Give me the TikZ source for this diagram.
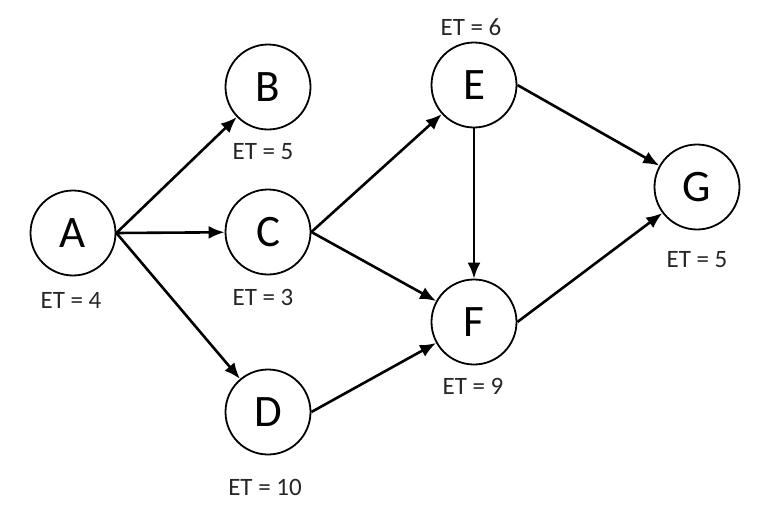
\documentclass[tikz,border=0pt]{standalone}
\usepackage{fontspec}
\setmainfont{Carlito}
\usetikzlibrary{arrows.meta}
\begin{document}
\begin{tikzpicture}[x=1pt,y=-1pt,
    task/.style={circle, draw, line width=1.8pt, minimum size=85pt, inner sep=0pt, font=\fontsize{45}{48}\selectfont},
    et/.style={font=\fontsize{25}{28}\selectfont, text=black!85},
    edge/.style={line width=2.6pt, -{Latex[length=16pt,width=13pt]}}]
            \useasboundingbox (0,0) rectangle (772,514);
            \node[task] (A) at (73,233) {A};
            \node[task] (B) at (268,87) {B};
            \node[task] (C) at (268,232) {C};
            \node[task] (D) at (268,412) {D};
            \node[task] (E) at (474,85) {E};
            \node[task] (F) at (474,322) {F};
            \node[task] (G) at (697,187) {G};

            \node[et] (etA) at (71,300) {ET = 4};
            \node[et] (etB) at (263,152) {ET = 5};
            \node[et] (etC) at (263,297) {ET = 3};
            \node[et] (etD) at (265,487) {ET = 10};
            \node[et] (etE) at (471,27) {ET = 6};
            \node[et] (etF) at (473,386) {ET = 9};
            \node[et] (etG) at (697,260) {ET = 5};

            \draw[edge] (A.east) -- (B);
            \draw[edge] (A.east) -- (C);
            \draw[edge] (A.east) -- (D);
            \draw[edge] (C.east) -- (E);
            \draw[edge] (C.east) -- (F);
            \draw[edge] (D.east) -- (F);
            \draw[edge] (E) -- (F);
            \draw[edge] (E.east) -- (G);
            \draw[edge] (F.east) -- (G);
        \end{tikzpicture}
\end{document}
